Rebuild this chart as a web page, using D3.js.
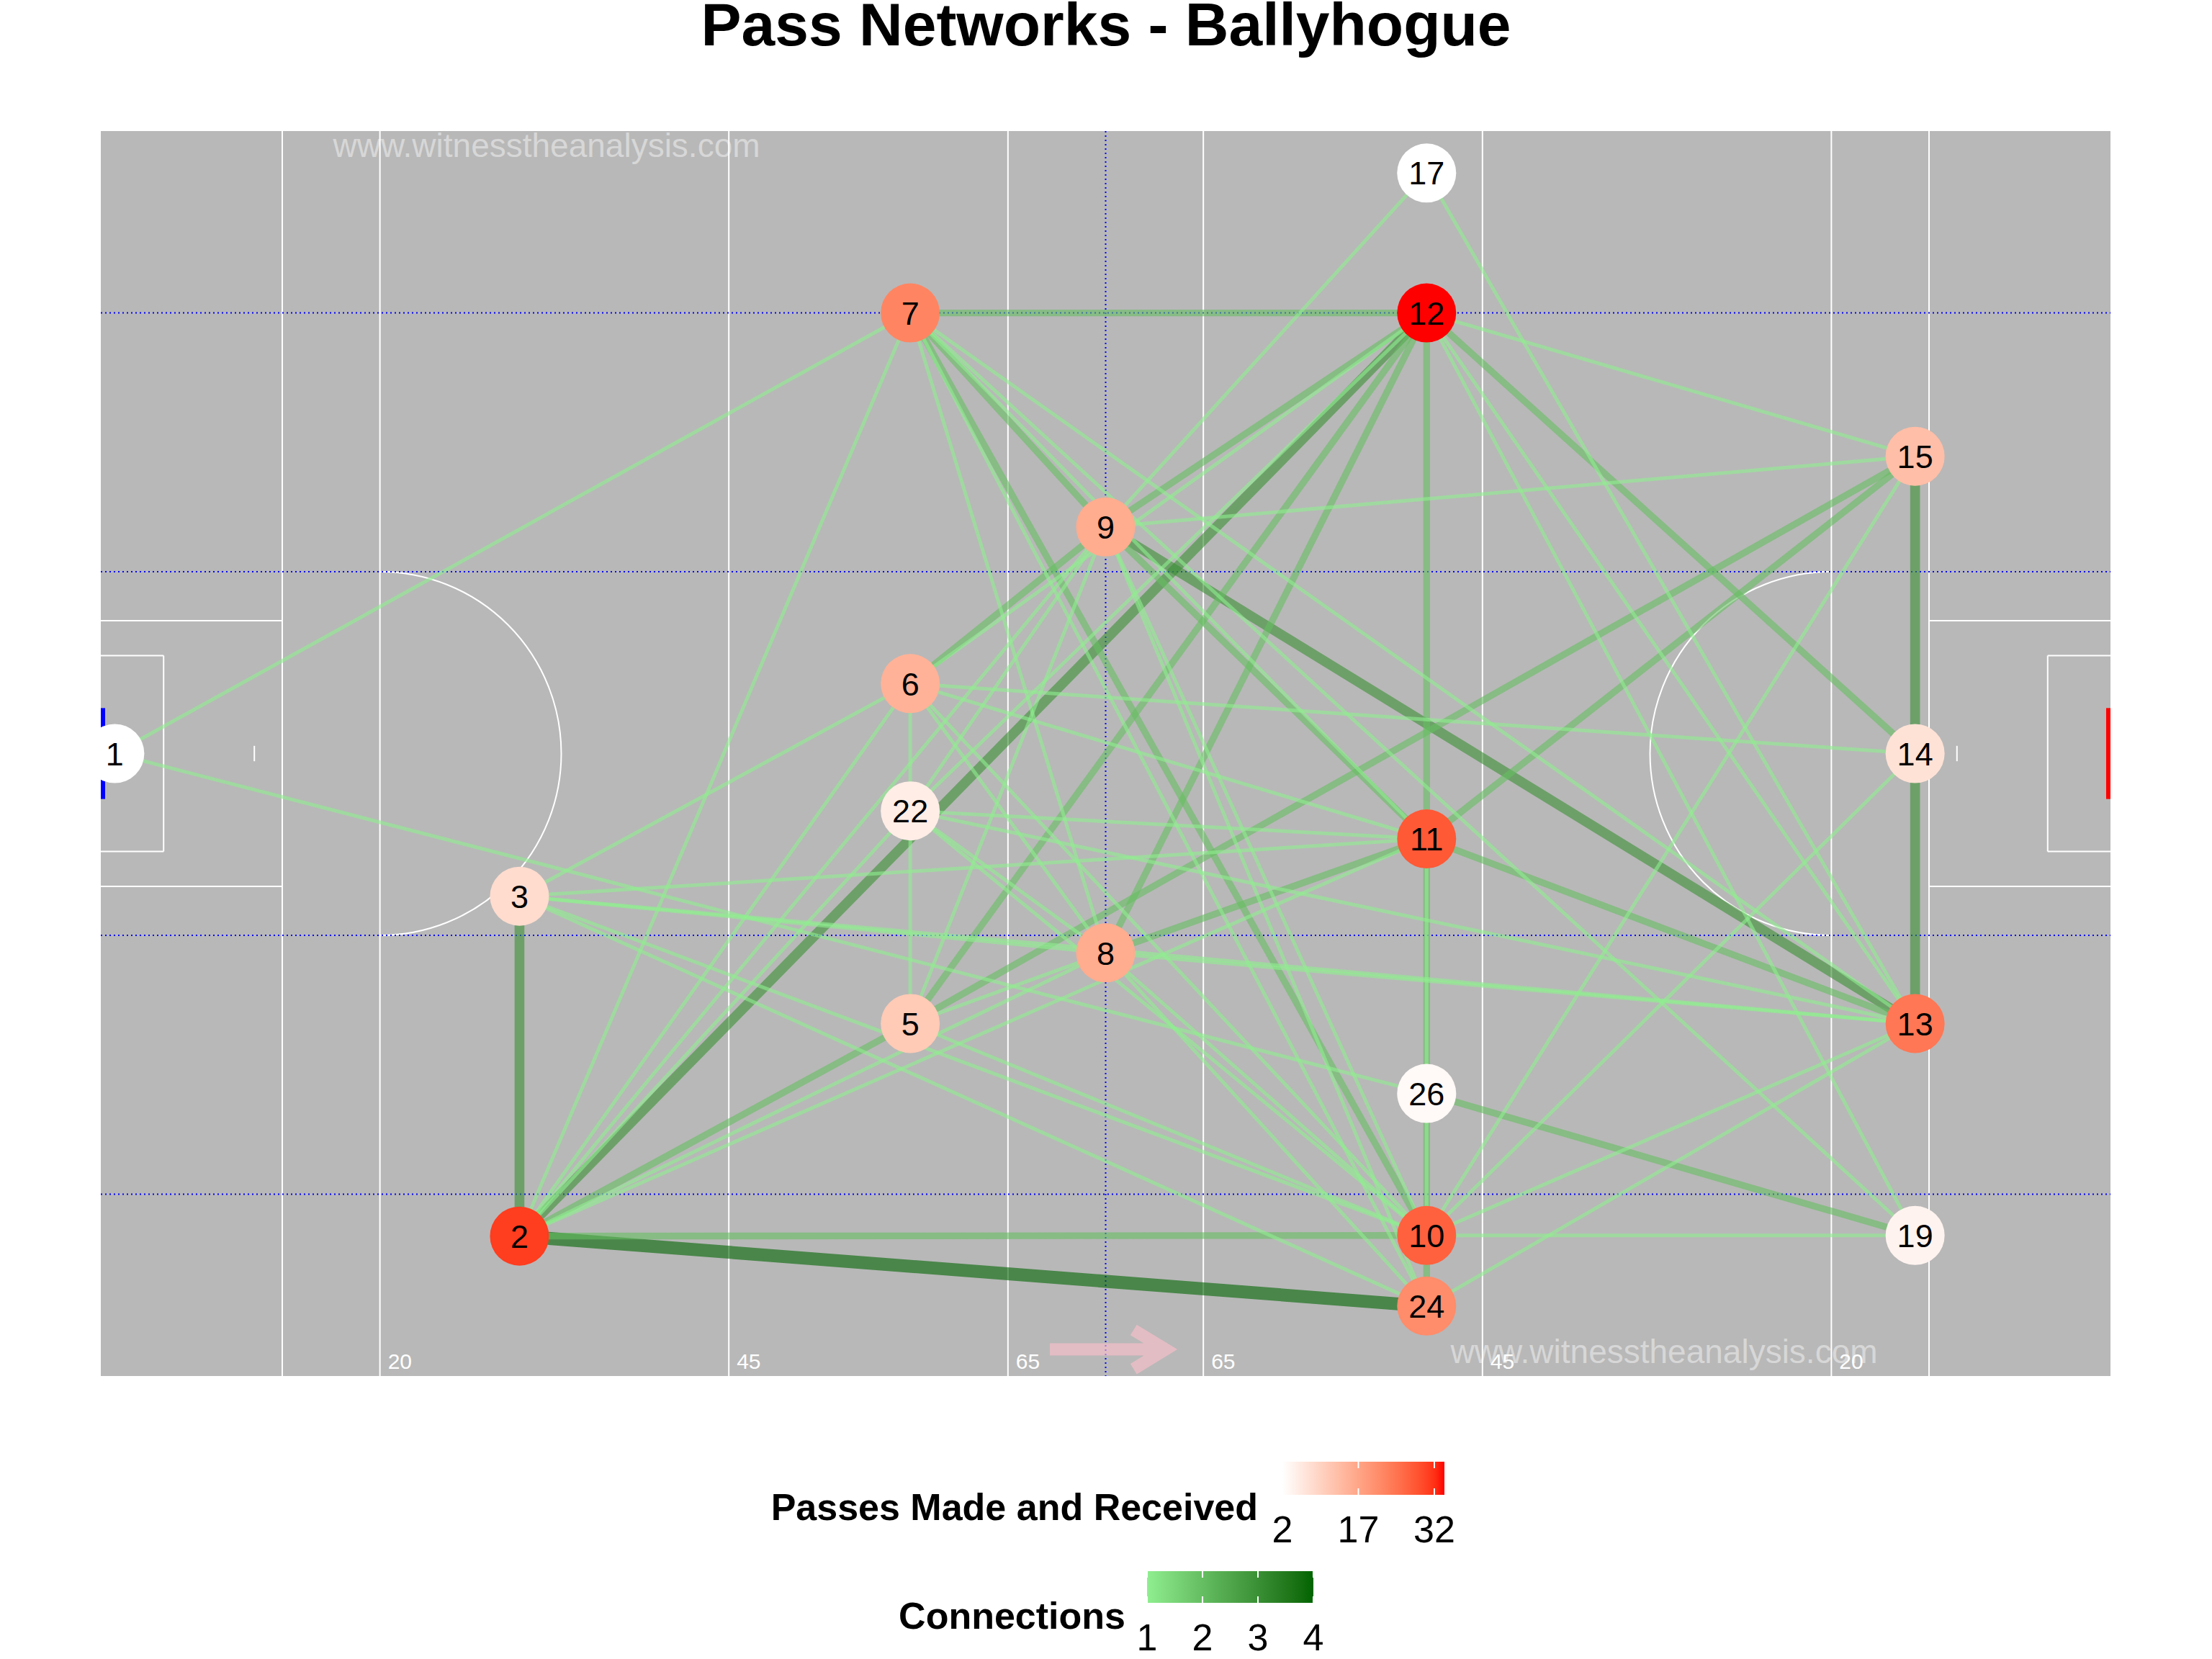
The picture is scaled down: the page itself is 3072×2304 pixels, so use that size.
<!DOCTYPE html>
<html><head><meta charset="utf-8">
<script src="https://cdn.jsdelivr.net/npm/d3@7"></script>
<style>body{margin:0;background:#fff}text{font-family:"Liberation Sans",Arial,sans-serif}</style>
</head><body>
<svg id="chart" width="3072" height="2304"></svg>
<script>
// ---------- data ----------
const titleText = "Pass Networks - Ballyhogue";
const players      = ["1","2","3","5","6","7","8","9","10","11","12","13","14","15","17","19","22","24","26"];
const playerX      = [1, 30, 30, 58, 58, 58, 72, 72, 95, 95, 95, 130, 130, 130, 95, 130, 58, 95, 95];
const playerY      = [44.5, 79, 54.7, 63.8, 39.5, 13, 58.75, 28.3, 78.95, 50.6, 13, 63.8, 44.5, 23.25, 3, 78.95, 48.6, 84, 68.8];
const playerPasses = [2, 31, 8, 11, 15, 22, 16, 16, 27, 28, 34, 24, 7, 13, 2, 4, 5, 21, 3];

const edgeFrom  = ["2","2","9","2","13","14","7","7","7","12","12","11","12","12","12","6","2","2","5","11","11","8","26","9",
  "1","1","7","7","7","7","7","7","17","17","12","12","12","12","12","9","9","9","9","9","9","6","6","6","6","6","6","6",
  "22","22","22","22","5","5","3","3","3","3","3","2","2","2","8","8","8","10","10","10","10","24","11"];
const edgeTo    = ["24","12","13","3","14","15","12","9","10","9","11","24","14","8","5","9","10","5","15","15","13","11","19","11",
  "7","26","2","8","11","19","24","13","9","13","15","13","19","6","22","15","10","24","5","2","22","14","3","5","2","8","11","10",
  "11","8","10","13","8","10","11","13","8","10","24","22","8","11","13","10","24","19","15","13","14","13","10"];
const edgeCount = [4,3,3,3,3,3,2,2,2,2,2,2,2,2,2,2,2,2,2,2,2,2,2,2,
  1,1,1,1,1,1,1,1,1,1,1,1,1,1,1,1,1,1,1,1,1,1,1,1,1,1,1,1,
  1,1,1,1,1,1,1,1,1,1,1,1,1,1,1,1,1,1,1,1,1,1,1];

const distanceLabels = ["20","45","65","65","45","20"];
const distancePos    = [20, 45, 65, 79, 99, 124];
const pitchLinesX    = [13, 20, 45, 65, 79, 99, 124, 131];
const dottedY        = [13, 31.5, 57.5, 76];
const passTicks      = [2, 17, 32];
const connTicks      = [1, 2, 3, 4];

// ---------- scales ----------
const PL = 144, PW = 89;
const x = d3.scaleLinear().domain([0, PL]).range([140, 2931]);
const y = d3.scaleLinear().domain([0, PW]).range([182, 1911]);
const fill = d3.scaleLinear().domain([2, 34]).range(["#ffffff", "#ff0000"]).interpolate(d3.interpolateLab);
const edgeCol = d3.scaleLinear().domain([1, 4]).range(["#90EE90", "#006400"]).interpolate(d3.interpolateLab);
const edgeW = d3.scaleLinear().domain([1, 4]).range([5, 18]);

const svg = d3.select("#chart");
const defs = svg.append("defs");
defs.append("clipPath").attr("id", "panel").append("rect")
  .attr("x", x(0)).attr("y", y(0)).attr("width", x(PL) - x(0)).attr("height", y(PW) - y(0));

// title
svg.append("text").attr("x", 1536).attr("y", 63).attr("text-anchor", "middle")
  .attr("font-size", 84).attr("font-weight", "bold").text(titleText);

// ---------- pitch ----------
const pitch = svg.append("g").attr("clip-path", "url(#panel)");
pitch.append("rect").attr("x", x(0)).attr("y", y(0)).attr("width", x(PL) - x(0)).attr("height", y(PW) - y(0)).attr("fill", "#b8b8b8");

const wl = {stroke: "#ffffff", "stroke-width": 2, fill: "none"};
function line(g, x1, y1, x2, y2, st) {
  const l = g.append("line").attr("x1", x(x1)).attr("y1", y(y1)).attr("x2", x(x2)).attr("y2", y(y2));
  Object.entries(st).forEach(([k, v]) => l.attr(k, v));
  return l;
}
pitchLinesX.forEach(v => line(pitch, v, 0, v, PW, wl));
const mid = PW / 2;
// large & small rectangles
[[0, 13, 9.5], [0, 4.5, 7]].forEach(([a, b, h]) => {
  line(pitch, a, mid - h, b, mid - h, wl); line(pitch, a, mid + h, b, mid + h, wl); line(pitch, b, mid - h, b, mid + h, wl);
  line(pitch, PL - a, mid - h, PL - b, mid - h, wl); line(pitch, PL - a, mid + h, PL - b, mid + h, wl); line(pitch, PL - b, mid - h, PL - b, mid + h, wl);
});
// penalty marks
line(pitch, 11, mid - 0.55, 11, mid + 0.55, wl);
line(pitch, PL - 11, mid - 0.55, PL - 11, mid + 0.55, wl);
// arcs
const rx = x(13) - x(0), ry = y(13) - y(0);
pitch.append("path").attr("d", `M${x(20)},${y(mid - 13)} A${rx},${ry} 0 0 1 ${x(20)},${y(mid + 13)}`).attr("stroke", "#fff").attr("stroke-width", 2).attr("fill", "none");
pitch.append("path").attr("d", `M${x(PL - 20)},${y(mid - 13)} A${rx},${ry} 0 0 0 ${x(PL - 20)},${y(mid + 13)}`).attr("stroke", "#fff").attr("stroke-width", 2).attr("fill", "none");
// dotted lines
const dl = {stroke: "#0000ff", "stroke-width": 2, "stroke-dasharray": "2,4", fill: "none"};
dottedY.forEach(v => line(pitch, 0, v, PL, v, dl));
line(pitch, PL / 2, 0, PL / 2, PW, dl);
// goals
pitch.append("rect").attr("x", x(0)).attr("y", y(mid - 3.25)).attr("width", 6).attr("height", y(mid + 3.25) - y(mid - 3.25)).attr("fill", "#0000ff");
pitch.append("rect").attr("x", x(PL) - 6).attr("y", y(mid - 3.25)).attr("width", 6).attr("height", y(mid + 3.25) - y(mid - 3.25)).attr("fill", "#ff0000");
// distance labels
distanceLabels.forEach((t, i) => pitch.append("text").attr("x", x(distancePos[i]) + 11).attr("y", 1901)
  .attr("font-size", 30).attr("fill", "#ffffff").text(t));
// watermarks
pitch.append("text").attr("x", 759).attr("y", 218).attr("text-anchor", "middle").attr("font-size", 46).attr("fill", "#ffffff").attr("fill-opacity", 0.45).text("www.witnesstheanalysis.com");
pitch.append("text").attr("x", 2311).attr("y", 1893).attr("text-anchor", "middle").attr("font-size", 46).attr("fill", "#ffffff").attr("fill-opacity", 0.45).text("www.witnesstheanalysis.com");
// direction arrow
const ag = pitch.append("g").attr("opacity", 0.6).attr("stroke", "#ffc0cb").attr("stroke-width", 17).attr("fill", "none");
ag.append("path").attr("d", `M${x(68)},${y(87.1)} H${x(76.3)} M${x(74.0)},${y(85.7)} L${x(76.3)},${y(87.1)} L${x(74.0)},${y(88.5)}`)
  .attr("stroke-linejoin", "miter");

// ---------- network ----------
const pos = {};
players.forEach((p, i) => pos[p] = [x(playerX[i]), y(playerY[i])]);
const net = svg.append("g").attr("clip-path", "url(#panel)");
edgeFrom.forEach((f, i) => {
  const a = pos[f], b = pos[edgeTo[i]];
  net.append("line").attr("x1", a[0]).attr("y1", a[1]).attr("x2", b[0]).attr("y2", b[1])
    .attr("stroke", edgeCol(edgeCount[i])).attr("stroke-opacity", 0.6).attr("stroke-width", edgeW(edgeCount[i]));
});
players.forEach((p, i) => {
  net.append("circle").attr("cx", pos[p][0]).attr("cy", pos[p][1]).attr("r", 41).attr("fill", fill(playerPasses[i]));
  net.append("text").attr("x", pos[p][0]).attr("y", pos[p][1]).attr("dy", "0.36em").attr("text-anchor", "middle")
    .attr("font-size", 45).attr("fill", "#000").text(p);
});

// ---------- legends ----------
function colorbar(id, x0, x1, y0, y1, scale, dom, ticks, title, titleEnd, titleBase, labelBase) {
  const g = defs.append("linearGradient").attr("id", id).attr("x1", "0%").attr("x2", "100%");
  d3.range(0, 1.0001, 0.05).forEach(t => g.append("stop").attr("offset", (t * 100) + "%").attr("stop-color", scale(dom[0] + t * (dom[1] - dom[0]))));
  svg.append("rect").attr("x", x0).attr("y", y0).attr("width", x1 - x0).attr("height", y1 - y0).attr("fill", `url(#${id})`);
  const s = d3.scaleLinear().domain(dom).range([x0, x1]);
  ticks.forEach(t => {
    svg.append("line").attr("x1", s(t)).attr("x2", s(t)).attr("y1", y0).attr("y2", y0 + 9).attr("stroke", "#fff").attr("stroke-width", 2);
    svg.append("line").attr("x1", s(t)).attr("x2", s(t)).attr("y1", y1 - 9).attr("y2", y1).attr("stroke", "#fff").attr("stroke-width", 2);
    svg.append("text").attr("x", s(t)).attr("y", labelBase).attr("text-anchor", "middle").attr("font-size", 52).text(t);
  });
  svg.append("text").attr("x", titleEnd).attr("y", titleBase).attr("text-anchor", "end").attr("font-size", 52).attr("font-weight", "bold").text(title);
}
colorbar("gradFill", 1781, 2006, 2030, 2076, fill, [2, 34], passTicks, "Passes Made and Received", 1747, 2111, 2142);
colorbar("gradConn", 1593, 1824, 2182, 2226, edgeCol, [1, 4], connTicks, "Connections", 1563, 2262, 2292);
</script>
</body></html>
